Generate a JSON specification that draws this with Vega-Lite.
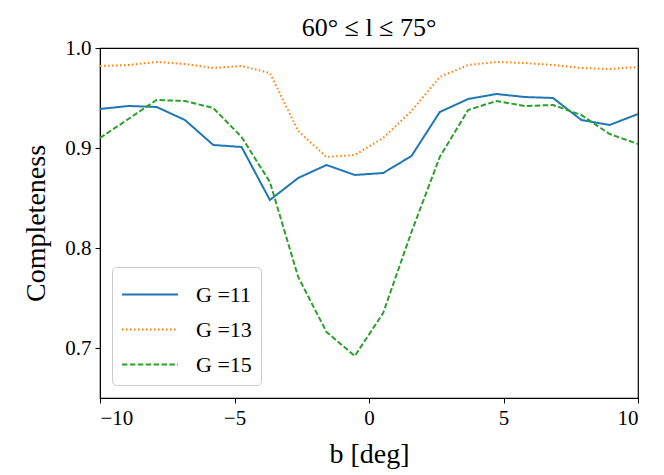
{
  "$schema": "https://vega.github.io/schema/vega-lite/v6.json",
  "width": 538,
  "height": 350,
  "autosize": {"type": "none"},
  "padding": {"left": 100, "top": 48, "right": 26, "bottom": 77},
  "background": "white",
  "config": {
    "font": "Liberation Serif",
    "view": {"stroke": "black", "strokeWidth": 1.2},
    "axis": {
      "grid": false,
      "domainColor": "black",
      "tickColor": "black",
      "labelColor": "black",
      "titleColor": "black",
      "labelFont": "Liberation Serif",
      "titleFont": "Liberation Serif",
      "titleFontWeight": "normal",
      "labelFontSize": 21,
      "titleFontSize": 28,
      "tickSize": 5
    }
  },
  "title": {
    "text": "60° ≤ l ≤ 75°",
    "font": "Liberation Serif",
    "fontSize": 26,
    "fontWeight": "normal",
    "color": "black",
    "offset": -4
  },
  "data": {
    "values": [
      {"b": -10.0, "completeness": 0.939, "series": "G =11"},
      {"b": -8.947, "completeness": 0.942, "series": "G =11"},
      {"b": -7.895, "completeness": 0.941, "series": "G =11"},
      {"b": -6.842, "completeness": 0.928, "series": "G =11"},
      {"b": -5.789, "completeness": 0.903, "series": "G =11"},
      {"b": -4.737, "completeness": 0.901, "series": "G =11"},
      {"b": -3.684, "completeness": 0.848, "series": "G =11"},
      {"b": -2.632, "completeness": 0.870, "series": "G =11"},
      {"b": -1.579, "completeness": 0.883, "series": "G =11"},
      {"b": -0.526, "completeness": 0.873, "series": "G =11"},
      {"b": 0.526, "completeness": 0.875, "series": "G =11"},
      {"b": 1.579, "completeness": 0.892, "series": "G =11"},
      {"b": 2.632, "completeness": 0.936, "series": "G =11"},
      {"b": 3.684, "completeness": 0.949, "series": "G =11"},
      {"b": 4.737, "completeness": 0.954, "series": "G =11"},
      {"b": 5.789, "completeness": 0.951, "series": "G =11"},
      {"b": 6.842, "completeness": 0.950, "series": "G =11"},
      {"b": 7.895, "completeness": 0.928, "series": "G =11"},
      {"b": 8.947, "completeness": 0.923, "series": "G =11"},
      {"b": 10.0, "completeness": 0.934, "series": "G =11"},
      {"b": -10.0, "completeness": 0.982, "series": "G =13"},
      {"b": -8.947, "completeness": 0.983, "series": "G =13"},
      {"b": -7.895, "completeness": 0.986, "series": "G =13"},
      {"b": -6.842, "completeness": 0.984, "series": "G =13"},
      {"b": -5.789, "completeness": 0.980, "series": "G =13"},
      {"b": -4.737, "completeness": 0.982, "series": "G =13"},
      {"b": -3.684, "completeness": 0.975, "series": "G =13"},
      {"b": -2.632, "completeness": 0.917, "series": "G =13"},
      {"b": -1.579, "completeness": 0.891, "series": "G =13"},
      {"b": -0.526, "completeness": 0.893, "series": "G =13"},
      {"b": 0.526, "completeness": 0.910, "series": "G =13"},
      {"b": 1.579, "completeness": 0.937, "series": "G =13"},
      {"b": 2.632, "completeness": 0.971, "series": "G =13"},
      {"b": 3.684, "completeness": 0.983, "series": "G =13"},
      {"b": 4.737, "completeness": 0.986, "series": "G =13"},
      {"b": 5.789, "completeness": 0.985, "series": "G =13"},
      {"b": 6.842, "completeness": 0.983, "series": "G =13"},
      {"b": 7.895, "completeness": 0.980, "series": "G =13"},
      {"b": 8.947, "completeness": 0.979, "series": "G =13"},
      {"b": 10.0, "completeness": 0.981, "series": "G =13"},
      {"b": -10.0, "completeness": 0.910, "series": "G =15"},
      {"b": -8.947, "completeness": 0.929, "series": "G =15"},
      {"b": -7.895, "completeness": 0.948, "series": "G =15"},
      {"b": -6.842, "completeness": 0.947, "series": "G =15"},
      {"b": -5.789, "completeness": 0.940, "series": "G =15"},
      {"b": -4.737, "completeness": 0.911, "series": "G =15"},
      {"b": -3.684, "completeness": 0.866, "series": "G =15"},
      {"b": -2.632, "completeness": 0.771, "series": "G =15"},
      {"b": -1.579, "completeness": 0.716, "series": "G =15"},
      {"b": -0.526, "completeness": 0.692, "series": "G =15"},
      {"b": 0.526, "completeness": 0.735, "series": "G =15"},
      {"b": 1.579, "completeness": 0.816, "series": "G =15"},
      {"b": 2.632, "completeness": 0.891, "series": "G =15"},
      {"b": 3.684, "completeness": 0.938, "series": "G =15"},
      {"b": 4.737, "completeness": 0.947, "series": "G =15"},
      {"b": 5.789, "completeness": 0.942, "series": "G =15"},
      {"b": 6.842, "completeness": 0.943, "series": "G =15"},
      {"b": 7.895, "completeness": 0.933, "series": "G =15"},
      {"b": 8.947, "completeness": 0.914, "series": "G =15"},
      {"b": 10.0, "completeness": 0.904, "series": "G =15"}
    ]
  },
  "mark": {"type": "line", "strokeWidth": 2, "clip": true},
  "encoding": {
    "x": {
      "field": "b",
      "type": "quantitative",
      "scale": {"domain": [-10, 10], "nice": false, "zero": false},
      "axis": {"values": [-10, -5, 0, 5, 10], "format": "d", "title": "b [deg]", "titlePadding": 12, "labelPadding": 4}
    },
    "y": {
      "field": "completeness",
      "type": "quantitative",
      "scale": {"domain": [0.65, 1.0], "nice": false, "zero": false},
      "axis": {"values": [0.7, 0.8, 0.9, 1.0], "format": ".1f", "title": "Completeness", "titlePadding": 14, "labelPadding": 4}
    },
    "color": {
      "field": "series",
      "type": "nominal",
      "scale": {"domain": ["G =11", "G =13", "G =15"], "range": ["#1f77b4", "#ff7f0e", "#2ca02c"]},
      "legend": {
        "title": null,
        "orient": "none",
        "legendX": 12,
        "legendY": 219,
        "fillColor": "white",
        "strokeColor": "#cccccc",
        "cornerRadius": 4,
        "padding": 9,
        "labelFont": "Liberation Serif",
        "labelFontSize": 22,
        "labelColor": "black",
        "labelOffset": 38,
        "symbolType": "M-1,0H2.2",
        "symbolSize": 1225,
        "symbolStrokeWidth": 2,
        "rowPadding": 5
      }
    },
    "strokeDash": {
      "field": "series",
      "type": "nominal",
      "scale": {"domain": ["G =11", "G =13", "G =15"], "range": [[1, 0], [1.5, 2.5], [5.5, 2.4]]},
      "legend": null
    }
  }
}
